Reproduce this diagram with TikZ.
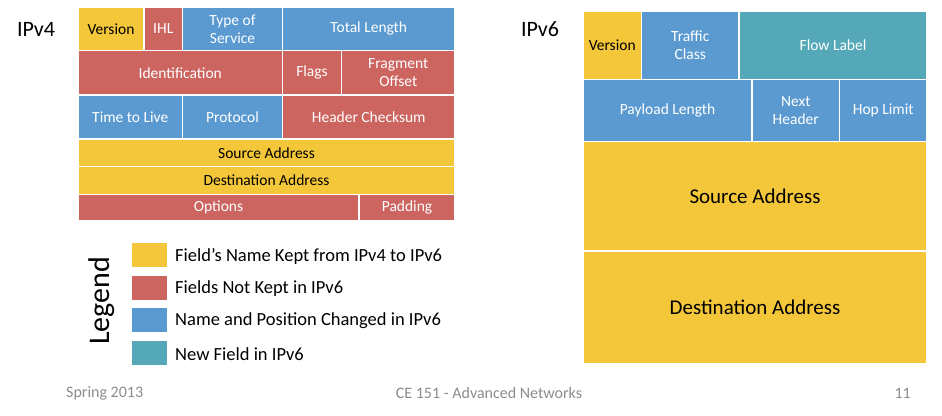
\documentclass[tikz,border=0pt]{standalone}
\usepackage{fontspec}
\setmainfont{Carlito}
\definecolor{cyel}{HTML}{F4C73A}
\definecolor{cred}{HTML}{CC6560}
\definecolor{cblue}{HTML}{5A9AD0}
\definecolor{cteal}{HTML}{54A8B7}
\definecolor{cfoot}{HTML}{8C8C8C}
\newcommand\fld[7]{%
  \pgfmathsetmacro\cx{(#2+#4)/2}\pgfmathsetmacro\cy{(#3+#5)/2}%
  \pgfmathsetmacro\ww{#4-#2}\pgfmathsetmacro\hh{#5-#3}%
  \node[cellbox,#6,minimum width=\ww pt,minimum height=\hh pt] (#1) at (\cx,\cy) {#7};}
\tikzset{
  cellbox/.style={draw=white,line width=1.5pt,inner sep=0pt,align=center,
    font=\fontsize{15.5}{18}\selectfont},
  fy/.style={fill=cyel,text=black},
  fr/.style={fill=cred,text=white},
  fb/.style={fill=cblue,text=white},
  ft/.style={fill=cteal,text=white},
  big/.style={font=\fontsize{21}{24}\selectfont},
  title/.style={font=\fontsize{22}{24}\selectfont,inner sep=0pt},
  legsq/.style={inner sep=0pt,minimum width=35pt,minimum height=24pt},
  legtxt/.style={anchor=west,inner sep=0pt,font=\fontsize{18.5}{20}\selectfont},
  foot/.style={text=cfoot,inner sep=0pt,font=\fontsize{16}{18}\selectfont}
}
\begin{document}
\begin{tikzpicture}[x=1pt,y=-1pt]
\useasboundingbox (0,0) rectangle (942,415);
% IPv4
\node[title] (t4) at (36,29) {IPv4};
\fld{ver4}{78}{7}{144}{50.5}{fy}{Version}
\fld{ihl}{144}{7}{182.5}{50.5}{fr}{IHL}
\fld{tos}{182.5}{7}{282.5}{50.5}{fb}{Type of\\Service}
\fld{tlen}{282.5}{7}{455}{50.5}{fb}{Total Length}
\fld{ident}{78}{50.5}{282.5}{95}{fr}{Identification}
\fld{flags}{282.5}{50.5}{341.5}{95}{fr}{Flags}
\fld{frag}{341.5}{50.5}{455}{95}{fr}{Fragment\\Offset}
\fld{ttl}{78}{95}{182.5}{139}{fb}{Time to Live}
\fld{proto}{182.5}{95}{282.5}{139}{fb}{Protocol}
\fld{hcs}{282.5}{95}{455}{139}{fr}{Header Checksum}
\fld{src4}{78}{139}{455}{166.5}{fy}{Source Address}
\fld{dst4}{78}{166.5}{455}{194.5}{fy}{Destination Address}
\fld{opt}{78}{194.5}{359}{220.5}{fr}{Options}
\fld{pad}{359}{194.5}{455}{220.5}{fr}{Padding}
% IPv6
\node[title] (t6) at (540,29) {IPv6};
\fld{ver6}{583}{11}{641.5}{79.5}{fy}{Version}
\fld{tc}{641.5}{11}{739}{79.5}{fb}{Traffic\\Class}
\fld{fl}{739}{11}{927}{79.5}{ft}{Flow Label}
\fld{plen}{583}{79.5}{752}{141.5}{fb}{Payload Length}
\fld{nh}{752}{79.5}{839.5}{141.5}{fb}{Next\\Header}
\fld{hop}{839.5}{79.5}{927}{141.5}{fb}{Hop Limit}
\fld{src6}{583}{141.5}{927}{251}{fy,big}{Source Address}
\fld{dst6}{583}{251}{927}{363.5}{fy,big}{Destination Address}
% Legend
\node[rotate=90,inner sep=0pt,font=\fontsize{30}{32}\selectfont] (leg) at (102,301) {Legend};
\node[legsq,fill=cyel] (l1) at (149.5,255) {};
\node[legsq,fill=cred] (l2) at (149.5,288) {};
\node[legsq,fill=cblue] (l3) at (149.5,320) {};
\node[legsq,fill=cteal] (l4) at (149.5,353) {};
\node[legtxt] (lt1) at (175,256) {Field’s Name Kept from IPv4 to IPv6};
\node[legtxt] (lt2) at (175,289) {Fields Not Kept in IPv6};
\node[legtxt] (lt3) at (175,321) {Name and Position Changed in IPv6};
\node[legtxt] (lt4) at (175,354) {New Field in IPv6};
% Footer
\node[foot,anchor=west] (f1) at (66,393) {Spring 2013};
\node[foot] (f2) at (489,393) {CE 151 - Advanced Networks};
\node[foot,anchor=east] (f3) at (911,393) {11};
\end{tikzpicture}
\end{document}
